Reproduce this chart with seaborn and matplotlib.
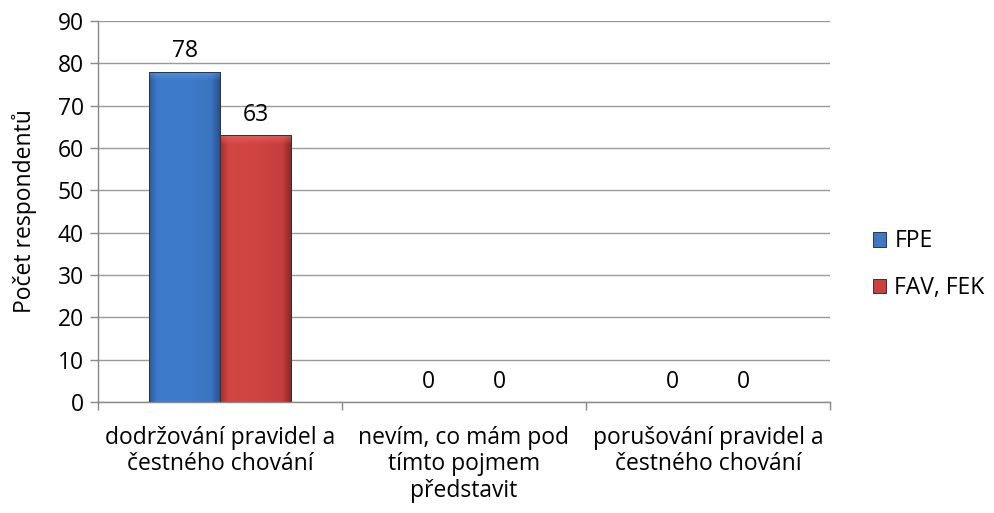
import matplotlib
matplotlib.use("Agg")
import matplotlib.pyplot as plt
import matplotlib.colors as mcolors
import seaborn as sns
import pandas as pd
import numpy as np

categories = ["dodržování pravidel a\nčestného chování",
              "nevím, co mám pod\ntímto pojmem\npředstavit",
              "porušování pravidel a\nčestného chování"]
series = ["FPE", "FAV, FEK"]
fpe = [78, 0, 0]
fav_fek = [63, 0, 0]
yticks = [0, 10, 20, 30, 40, 50, 60, 70, 80, 90]

df = pd.DataFrame({
    "cat": categories * 2,
    "series": [series[0]] * 3 + [series[1]] * 3,
    "val": fpe + fav_fek,
})

sns.set_theme(style="white")
plt.rcParams['font.family'] = ['Open Sans', 'DejaVu Sans']
plt.rcParams['text.color'] = 'black'
plt.rcParams['axes.labelcolor'] = 'black'
plt.rcParams['xtick.color'] = 'black'
plt.rcParams['ytick.color'] = 'black'
FS = 16.5

fig = plt.figure(figsize=(9.94, 5.13), dpi=100)
ax = fig.add_axes([0.0986, 0.2164, 0.7364, 0.7426])

palette = {"FPE": "#3E78C6", "FAV, FEK": "#CB403D"}
sns.barplot(data=df, x="cat", y="val", hue="series", palette=palette,
            width=0.58, ax=ax, saturation=1, edgecolor="#333333", linewidth=0.7)

# bevel-like horizontal gradient inside each bar
grads = {
    0: [(0.0, "#2c5a98"), (0.12, "#3d7bcb"), (0.5, "#3e7cca"),
        (0.88, "#3a74c0"), (1.0, "#28528a")],
    1: [(0.0, "#a22f2c"), (0.12, "#d24644"), (0.5, "#cf4441"),
        (0.88, "#c53e3c"), (1.0, "#8f2826")],
}
for ci, cont in enumerate(ax.containers):
    cmap = mcolors.LinearSegmentedColormap.from_list(f"g{ci}", grads[ci])
    for patch in cont.patches:
        if patch.get_height() <= 0:
            continue
        x0, y0 = patch.get_x(), patch.get_y()
        w, h = patch.get_width(), patch.get_height()
        img = ax.imshow(np.linspace(0, 1, 128).reshape(1, -1), cmap=cmap,
                        extent=[x0, x0 + w, y0, y0 + h], aspect="auto",
                        zorder=patch.get_zorder() + 0.1, interpolation="bilinear")
        img.set_clip_path(patch)
        top = np.linspace(1, 0, 16).reshape(-1, 1)
        tcol = mcolors.to_rgb(grads[ci][1][1])
        rgba = np.zeros((16, 1, 4))
        rgba[..., :3] = [min(1, c + 0.15) for c in tcol]
        rgba[..., 3] = top * 0.6
        img2 = ax.imshow(rgba, extent=[x0, x0 + w, y0 + h - 2.2, y0 + h],
                         aspect="auto", zorder=patch.get_zorder() + 0.2)
        img2.set_clip_path(patch)
        edge = plt.Rectangle((x0, y0), w, h, fill=False, edgecolor="#333333",
                             linewidth=0.7, zorder=patch.get_zorder() + 0.3)
        ax.add_patch(edge)

for cont in ax.containers:
    ax.bar_label(cont, labels=[f"{int(v)}" for v in cont.datavalues],
                 padding=6, fontsize=FS, color="#000000")

ax.set_ylim(0, 90)
ax.set_yticks(yticks)
ax.set_xlim(-0.5, 2.5)
ax.yaxis.grid(True, color="#9a9a9a", linewidth=1)
ax.set_axisbelow(True)
for s in ["top", "right"]:
    ax.spines[s].set_visible(False)
for s in ["left", "bottom"]:
    ax.spines[s].set_color("#888888")
    ax.spines[s].set_linewidth(1)

ax.tick_params(axis="y", which="major", length=6, color="#888888", width=1,
               labelsize=FS, pad=4, left=True, labelcolor="black")
ax.tick_params(axis="x", which="major", length=0, labelsize=FS, pad=17,
               labelcolor="black")
ax.set_xticks([-0.5, 0.5, 1.5, 2.5], minor=True)
ax.tick_params(axis="x", which="minor", length=6, color="#888888", width=1, bottom=True)
ax.set_xlabel("")
ax.set_ylabel("Počet respondentů", fontsize=FS, labelpad=15, color="black")
for lab in ax.get_xticklabels():
    lab.set_linespacing(1.15)

ax.legend(loc="center left", bbox_to_anchor=(1.03, 0.36), frameon=False,
          fontsize=FS, handlelength=0.6, handleheight=0.6, labelspacing=1.0,
          handletextpad=0.35)

fig.savefig("out.png", dpi=100)
